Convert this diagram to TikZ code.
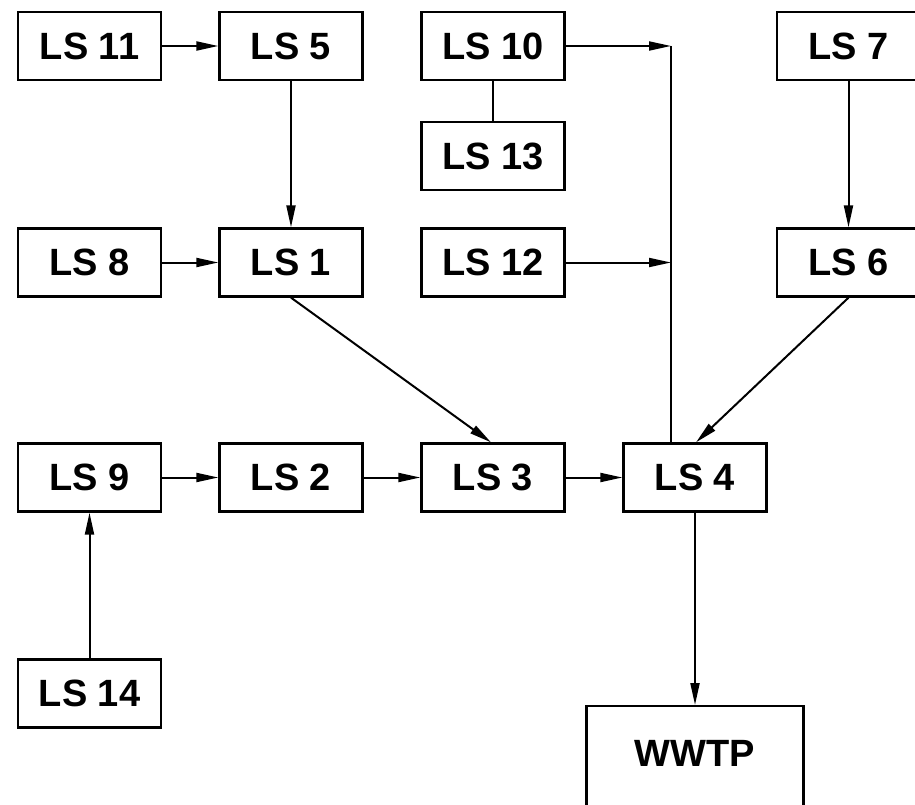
\documentclass[tikz,border=0pt]{standalone}
\usepackage{fontspec}
\setmainfont{Liberation Sans}
\usetikzlibrary{arrows.meta}
\begin{document}
\begin{tikzpicture}[x=1pt,y=-1pt,
  box/.style={draw,line width=2.3pt,minimum width=143pt,minimum height=68pt,inner sep=0pt,font=\fontsize{38}{40}\selectfont\bfseries},
  conn/.style={line width=2pt},
  arr/.style={conn,-{Triangle[length=22pt,width=9pt]}}]
\useasboundingbox (0,0) rectangle (915,805);
\node[box] (ls11) at (89.5,46) {LS 11};
\node[box] (ls5) at (291,46) {LS 5};
\node[box] (ls10) at (493,46) {LS 10};
\node[box] (ls7) at (848.5,46) {LS 7};
\node[box] (ls13) at (493,156) {LS 13};
\node[box] (ls8) at (89.5,262.5) {LS 8};
\node[box] (ls1) at (291,262.5) {LS 1};
\node[box] (ls12) at (493,262.5) {LS 12};
\node[box] (ls6) at (848.5,262.5) {LS 6};
\node[box] (ls9) at (89.5,477.5) {LS 9};
\node[box] (ls2) at (291,477.5) {LS 2};
\node[box] (ls3) at (493,477.5) {LS 3};
\node[box] (ls4) at (695,477.5) {LS 4};
\node[box] (ls14) at (89.5,693.5) {LS 14};
\node[box,minimum width=217pt,minimum height=120pt,anchor=north] (wwtp) at (695,705) {};
\node[font=\fontsize{38}{40}\selectfont\bfseries] (wwtpt) at (695,753) {WWTP};
\coordinate (j1) at (671,46);
\coordinate (j2) at (671,262.5);
\draw[arr] (ls11) -- (ls5);
\draw[arr] (ls5.south) -- (ls1.north);
\draw[arr] (ls8) -- (ls1);
\draw[arr] (ls10) -- (j1);
\draw[conn] (ls10) -- (ls13);
\draw[arr] (ls12) -- (j2);
\draw[conn] (j1) -- (ls4.north -| j1);
\draw[arr] (ls7) -- (ls6);
\draw[arr] (ls1.south) -- ([xshift=-2pt]ls3.north);
\draw[arr] (ls6.south) -- ([xshift=1pt]ls4.north);
\draw[arr] (ls9) -- (ls2);
\draw[arr] (ls2) -- (ls3);
\draw[arr] (ls3) -- (ls4);
\draw[arr] (ls14) -- (ls9);
\draw[arr] (ls4.south) -- (wwtp.north);
\end{tikzpicture}
\end{document}
